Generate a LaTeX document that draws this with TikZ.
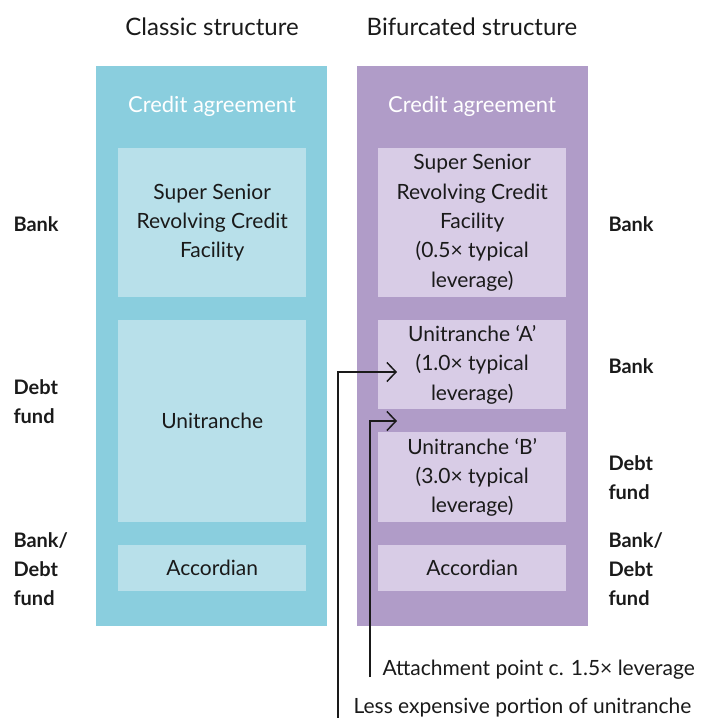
\documentclass[tikz,border=0pt]{standalone}
\usepackage{fontspec}
\setmainfont{Lato}
\usetikzlibrary{arrows.meta}
\definecolor{bluepanel}{HTML}{8ACEDE}
\definecolor{bluebox}{HTML}{B8E0EA}
\definecolor{purppanel}{HTML}{B09CC8}
\definecolor{purpbox}{HTML}{D8CCE6}
\definecolor{ink}{HTML}{1A1A1A}
\tikzset{
  panel/.style={inner sep=0pt, minimum width=231pt, minimum height=560pt, anchor=north west},
  boxnode/.style={inner sep=0pt, minimum width=188pt, anchor=north west, align=center, text=ink,
    font=\fontsize{21}{29.3}\selectfont},
  title/.style={text=ink, font=\fontsize{24}{28}\selectfont},
  sidelab/.style={anchor=west, align=left, text=ink, font=\fontsize{20}{28.8}\selectfont\bfseries},
  caption/.style={text=white, font=\fontsize{22}{26}\selectfont},
  note/.style={anchor=west, text=ink, font=\fontsize{21}{24}\selectfont},
  arr/.style={draw=ink, line width=1.5pt, -{Straight Barb[length=9pt,width=19pt,line width=1.5pt]}}
}
\begin{document}
\begin{tikzpicture}[x=1pt,y=-1pt]
\useasboundingbox (0,0) rectangle (710,718);
% titles
\node[title] (t1) at (212,27) {Classic structure};
\node[title] (t2) at (472,27) {Bifurcated structure};
% panels
\node[panel, fill=bluepanel] (lp) at (96,66) {};
\node[panel, fill=purppanel] (rp) at (357,66) {};
\node[caption] (lc) at (212,106) {Credit agreement};
\node[caption] (rc) at (472,106) {Credit agreement};
% left boxes
\node[boxnode, fill=bluebox, minimum height=149pt] (l1) at (118,148) {Super Senior\\Revolving Credit\\Facility};
\node[boxnode, fill=bluebox, minimum height=202pt] (l2) at (118,320) {Unitranche};
\node[boxnode, fill=bluebox, minimum height=46pt] (l3) at (118,545) {Accordian};
% right boxes
\node[boxnode, fill=purpbox, minimum height=149pt] (r1) at (378,148) {Super Senior\\Revolving Credit\\Facility\\(0.5× typical\\leverage)};
\node[boxnode, fill=purpbox, minimum height=89pt] (r2) at (378,320) {Unitranche ‘A’\\(1.0× typical\\leverage)};
\node[boxnode, fill=purpbox, minimum height=90pt] (r3) at (378,432) {Unitranche ‘B’\\(3.0× typical\\leverage)};
\node[boxnode, fill=purpbox, minimum height=46pt] (r4) at (378,545) {Accordian};
% side labels left
\node[sidelab] (lb1) at (10,224) {Bank};
\node[sidelab] (lb2) at (10,402) {Debt\\fund};
\node[sidelab] (lb3) at (10,569) {Bank/\\Debt\\fund};
% side labels right
\node[sidelab] (rb1) at (605,224) {Bank};
\node[sidelab] (rb2) at (605,366) {Bank};
\node[sidelab] (rb3) at (605,478) {Debt\\fund};
\node[sidelab] (rb4) at (605,569) {Bank/\\Debt\\fund};
% arrows
\coordinate (s1) at (338,718);
\coordinate (a1) at (397,372);
\coordinate (s2) at (370,677);
\coordinate (a2) at (397,421);
\draw[arr] (s1) |- (a1);
\draw[arr] (s2) |- (a2);
\node[note] (n2) at (379,670) {Attachment point c. 1.5× leverage};
\node[note] (n1) at (350,708) {Less expensive portion of unitranche};
\end{tikzpicture}
\end{document}
